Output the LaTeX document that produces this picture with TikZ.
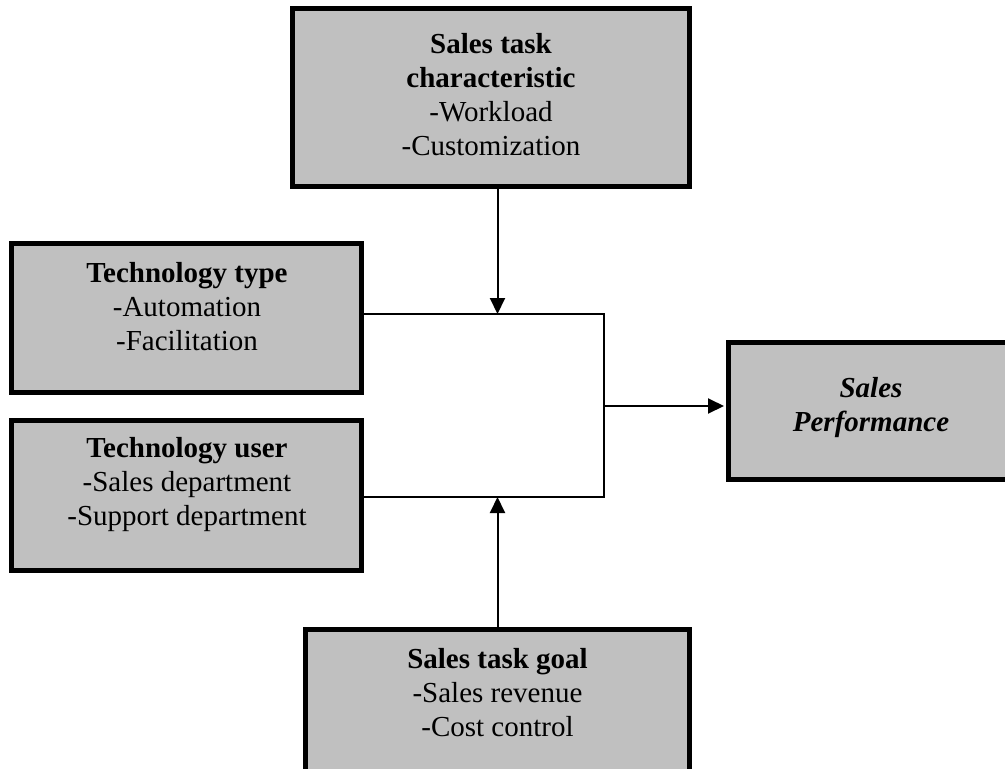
\documentclass[tikz,border=0pt]{standalone}
\usepackage{fontspec}
\setmainfont{Liberation Serif}
\usetikzlibrary{arrows.meta}
\definecolor{boxgray}{HTML}{C0C0C0}
\begin{document}
\begin{tikzpicture}[x=1pt,y=-1pt,
  box/.style={draw=black, line width=5pt, fill=boxgray, rectangle, inner sep=0pt},
  txt/.style={align=center, font=\fontsize{29}{34}\selectfont, inner sep=0pt},
  conn/.style={draw=black, line width=2pt},
  arr/.style={conn, -{Triangle[length=16pt,width=15pt]}}]
\useasboundingbox (0,0) rectangle (1005,769);
% boxes
\node[box, minimum width=397pt, minimum height=178pt] (top) at (491,97.5) {};
\node[box, minimum width=350pt, minimum height=149pt] (ttype) at (186.5,318) {};
\node[box, minimum width=350pt, minimum height=150pt] (tuser) at (186.5,495.5) {};
\node[box, minimum width=285pt, minimum height=137pt] (perf) at (871,411) {};
\node[box, minimum width=384pt, minimum height=143pt] (goal) at (497.5,701) {};
% texts
\node[txt] (toptxt) at (491,95) {\textbf{Sales task}\\\textbf{characteristic}\\-Workload\\-Customization};
\node[txt] (ttypetxt) at (187,307) {\textbf{Technology type}\\-Automation\\-Facilitation};
\node[txt] (tusertxt) at (187,485) {\textbf{Technology user}\\-Sales department\\-Support department};
\node[txt] (perftxt) at (871,408) {\textbf{\textit{Sales}}\\\textbf{\textit{Performance}}};
\node[txt] (goaltxt) at (497.5,693) {\textbf{Sales task goal}\\-Sales revenue\\-Cost control};
% junction points
\coordinate (jt) at (497.5,314);
\coordinate (jb) at (497.5,497);
\coordinate (jr) at (604,406);
% connectors
\draw[conn] (ttype.east |- jt) -- (jt -| jr) -- (jb -| jr) -- (tuser.east |- jb);
\draw[arr] (top.south -| jt) -- (jt);
\draw[arr] (goal.north -| jb) -- (jb);
\draw[arr, shorten >=2pt] (jr) -- (perf.west |- jr);
\end{tikzpicture}
\end{document}
